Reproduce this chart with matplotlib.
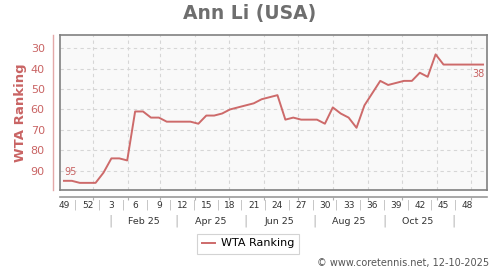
import pandas as pd
import matplotlib
matplotlib.use("Agg")
import matplotlib.pyplot as plt
import matplotlib.dates as mdates
import matplotlib.transforms as mtrans

# weekly WTA ranking, first week = week 49 of 2024
start = "2024-12-06"
ranks = [95, 95, 96, 96, 96, 91, 84, 84, 85, 61, 61, 64, 64, 66, 66, 66, 66, 67, 63, 63,
         62, 60, 59, 58, 57, 55, 54, 53, 65, 64, 65, 65, 65, 67, 59, 62, 64, 69, 58, 52,
         46, 48, 47, 46, 46, 42, 44, 33, 38, 38, 38, 38, 38, 38]
week_labels = ["49", "52", "3", "6", "9", "12", "15", "18", "21", "24", "27", "30",
               "33", "36", "39", "42", "45", "48"]
month_labels = ["Feb 25", "Apr 25", "Jun 25", "Aug 25", "Oct 25"]
month_label_dates = ["2025-02-15", "2025-04-15", "2025-06-15", "2025-08-15", "2025-10-15"]
month_sep_dates = ["2025-01-16", "2025-03-16", "2025-05-16", "2025-07-16", "2025-09-16", "2025-11-16"]

red = "#cd6a6a"
txtred = "#c96464"
grey = "#808080"

dates = pd.date_range(start, periods=len(ranks), freq="7D")
x = mdates.date2num(dates)
wk = 7.0

fig = plt.figure(figsize=(5, 2.7), dpi=100)
ax = fig.add_axes([60 / 500, 1 - 190 / 270, 427 / 500, 155 / 270])
ax.set_facecolor("#f9f9f9")

ax.plot(x, ranks, color=red, lw=1.4, label="WTA Ranking", zorder=3)
ax.set_xlim(x[0] - wk / 2, x[-1] + wk / 2)
ax.set_ylim(99.5, 23.5)

# grid
ax.xaxis.set_major_locator(mdates.MonthLocator())
ax.xaxis.set_major_formatter(plt.NullFormatter())
ax.set_yticks([30, 40, 50, 60, 70, 80, 90])
ax.grid(True, which="major", color="#d6d6d6", lw=0.8, ls=(0, (3, 3)))

# spines
for s in ["top", "right"]:
    ax.spines[s].set_color(grey)
    ax.spines[s].set_linewidth(1.2)
ax.spines["bottom"].set_position(("outward", 5))
ax.spines["bottom"].set_color("#9a9a9a")
ax.spines["bottom"].set_linewidth(1.2)
ax.spines["left"].set_position(("outward", 5))
ax.spines["left"].set_color("#e3a8a8")
ax.spines["left"].set_linewidth(1.0)
ax.axhline(99.5, color=grey, lw=1.2, clip_on=False, zorder=4)
ax.axvline(x[0] - wk / 2, color=grey, lw=1.2, clip_on=False, zorder=4)

ax.tick_params(axis="x", which="major", length=2.5, color="#b0b0b0", width=0.8)
ax.tick_params(axis="y", length=0, pad=6, labelsize=8, labelcolor=txtred)

# week labels
ax.set_xticks(x[::3], week_labels, minor=True)
ax.tick_params(axis="x", which="minor", length=0, pad=3, labelsize=6.5, labelcolor="#333333")

tr = mtrans.blended_transform_factory(ax.transData, fig.transFigure)
for xi in x[1::3][:len(week_labels) - 1]:
    ax.text(xi + wk / 2, 1 - 205 / 270, "|", transform=tr, ha="center", va="center",
            fontsize=7, color="#b5b5b5")
for d, lab in zip(month_label_dates, month_labels):
    ax.text(mdates.datestr2num(d), 1 - 221 / 270, lab, transform=tr, ha="center",
            va="center", fontsize=6.8, color="#333333")
for d in month_sep_dates:
    ax.text(mdates.datestr2num(d), 1 - 221 / 270, "|", transform=tr, ha="center",
            va="center", fontsize=9, color="#b5b5b5")

# first / last values
ax.annotate(str(ranks[0]), (x[0], ranks[0]), xytext=(0, 3), textcoords="offset points",
            ha="left", va="bottom", fontsize=7, color=txtred)
ax.annotate(str(ranks[-1]), (x[-1], ranks[-1]), xytext=(1, -3), textcoords="offset points",
            ha="right", va="top", fontsize=7, color=txtred)

ax.set_ylabel("WTA Ranking", fontsize=9.5, fontweight="bold", color=txtred)
ax.yaxis.set_label_coords(-0.077, 0.5)

fig.text(0.5, 1 - 13 / 270, "Ann Li (USA)", ha="center", va="center", fontsize=13.5,
         fontweight="bold", color="#6e6e6e")

leg = fig.legend(loc="center", bbox_to_anchor=(248 / 500, 1 - 243.5 / 270), fontsize=8,
                 frameon=True, fancybox=False, handlelength=1.2, handletextpad=0.5,
                 borderpad=0.45)
leg.get_frame().set_edgecolor("#c8c8c8")
leg.get_frame().set_linewidth(0.8)

fig.text(489 / 500, 1 - 263 / 270, "\u00a9 www.coretennis.net, 12-10-2025", ha="right",
         va="center", fontsize=7, color="#555555")

fig.savefig("out.png", dpi=100)
